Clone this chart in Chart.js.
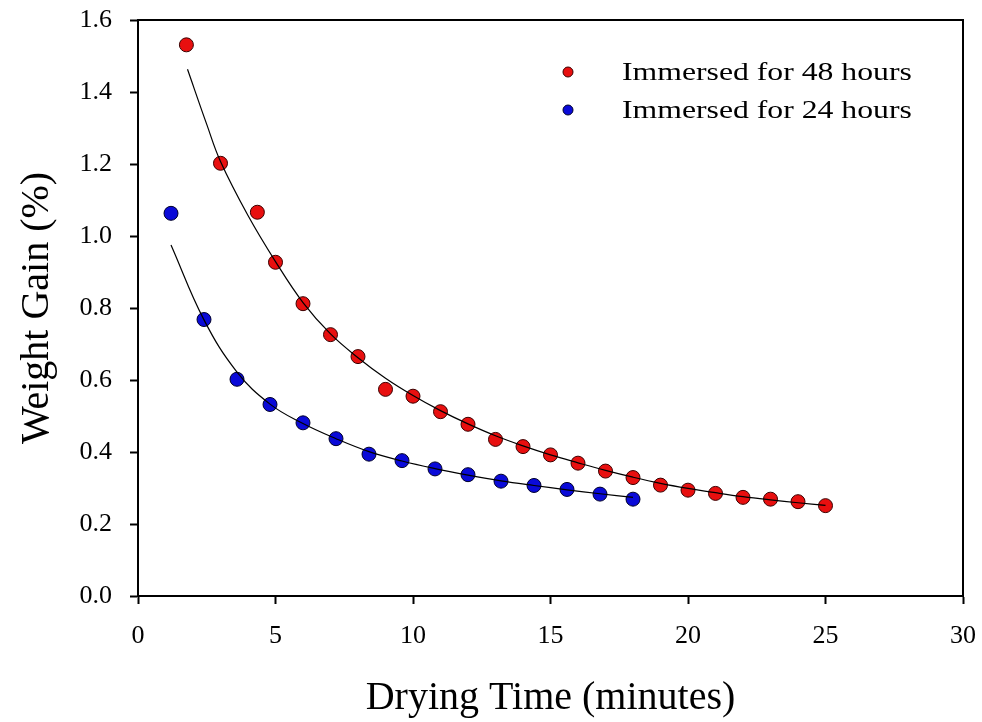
<!DOCTYPE html>
<html><head><meta charset="utf-8">
<script src="https://cdn.jsdelivr.net/npm/chart.js@4/dist/chart.umd.min.js"></script>
<style>html,body{margin:0;padding:0;background:#fff;}#wrap{width:982px;height:722px;}</style>
</head><body><div id="wrap"><canvas id="c" width="982" height="722"></canvas></div>
<script>
// ---- data ----
const seriesNames = ['Immersed for 48 hours', 'Immersed for 24 hours'];
const time48 = [1.76, 3, 4.34, 5, 6, 7, 8, 9, 10, 11, 12, 13, 14, 15, 16, 17, 18, 19, 20, 21, 22, 23, 24, 25];
const gain48 = [1.531, 1.202, 1.066, 0.927, 0.812, 0.726, 0.665, 0.574, 0.555, 0.512, 0.477, 0.435, 0.415, 0.392, 0.369, 0.347, 0.329, 0.308, 0.294, 0.285, 0.274, 0.269, 0.262, 0.251];
const time24 = [1.2, 2.4, 3.6, 4.8, 6.0, 7.2, 8.4, 9.6, 10.8, 12.0, 13.2, 14.4, 15.6, 16.8, 18.0];
const gain24 = [1.063, 0.768, 0.602, 0.532, 0.481, 0.437, 0.394, 0.376, 0.353, 0.337, 0.319, 0.307, 0.296, 0.283, 0.269];
const fitTime48 = [1.8, 2.5, 3, 4, 5, 6, 7, 8, 9, 10, 11, 12, 13, 14, 15, 16, 17, 18, 19, 20, 21, 22, 23, 24, 25];
const fitGain48 = [1.463, 1.31, 1.207, 1.057, 0.929, 0.815, 0.728, 0.662, 0.605, 0.557, 0.515, 0.478, 0.445, 0.417, 0.392, 0.370, 0.349, 0.330, 0.313, 0.299, 0.287, 0.276, 0.267, 0.259, 0.252];
const fitTime24 = [1.2, 2.4, 3.6, 4.8, 6.0, 7.2, 8.4, 9.6, 10.8, 12.0, 13.2, 14.4, 15.6, 16.8, 18.0];
const fitGain24 = [0.975, 0.767, 0.622, 0.533, 0.479, 0.437, 0.401, 0.375, 0.354, 0.336, 0.320, 0.307, 0.295, 0.284, 0.274];
const xTicks = [0, 5, 10, 15, 20, 25, 30];
const yTicks = [0, 0.2, 0.4, 0.6, 0.8, 1.0, 1.2, 1.4, 1.6];
const xTitle = 'Drying Time (minutes)';
const yTitle = 'Weight Gain (%)';

const pts = (xs, ys) => xs.map((x, i) => ({x: x, y: ys[i]}));
const SERIF = "'Liberation Serif', 'Times New Roman', serif";

const framePlugin = {
  id: 'frame',
  afterDatasetsDraw(chart) {
    const {ctx, chartArea: a} = chart;
    ctx.save();
    ctx.strokeStyle = '#000';
    ctx.lineWidth = 2;
    ctx.beginPath();
    ctx.moveTo(a.left, a.top);
    ctx.lineTo(a.right, a.top);
    ctx.lineTo(a.right, a.bottom);
    ctx.stroke();
    ctx.restore();
  }
};

const legendPlugin = {
  id: 'customLegend',
  afterDraw(chart) {
    const {ctx, chartArea: a} = chart;
    ctx.save();
    let row = 0;
    chart.data.datasets.forEach((ds) => {
      if (!ds.inLegend) return;
      const cx = a.left + 430;
      const cy = a.top + 52 + row * 38;
      ctx.beginPath();
      ctx.arc(cx, cy, 5, 0, Math.PI * 2);
      ctx.fillStyle = ds.backgroundColor;
      ctx.fill();
      ctx.lineWidth = 1;
      ctx.strokeStyle = ds.borderColor;
      ctx.stroke();
      ctx.fillStyle = '#000';
      ctx.font = "26px " + SERIF;
      ctx.textBaseline = 'alphabetic';
      ctx.textAlign = 'left';
      ctx.save();
      ctx.translate(a.left + 484, cy + 8);
      ctx.scale(1.22, 1);
      ctx.fillText(ds.label, 0, 0);
      ctx.restore();
      row++;
    });
    ctx.restore();
  }
};

new Chart(document.getElementById('c'), {
  type: 'scatter',
  data: {
    datasets: [
      {label: 'fit48', data: pts(fitTime48, fitGain48), showLine: true, pointRadius: 0, borderColor: '#000', borderWidth: 1.2, tension: 0.4, order: 0},
      {label: 'fit24', data: pts(fitTime24, fitGain24), showLine: true, pointRadius: 0, borderColor: '#000', borderWidth: 1.2, tension: 0.4, order: 0},
      {label: seriesNames[0], inLegend: true, data: pts(time48, gain48), pointRadius: 7, pointBorderWidth: 1, backgroundColor: '#e80f0f', borderColor: '#3a0000', order: 1},
      {label: seriesNames[1], inLegend: true, data: pts(time24, gain24), pointRadius: 7, pointBorderWidth: 1, backgroundColor: '#0a0ad8', borderColor: '#00002a', order: 1}
    ]
  },
  options: {
    responsive: false,
    animation: false,
    devicePixelRatio: 1,
    layout: {padding: {top: 20, right: 19, left: 0, bottom: 0}},
    plugins: {legend: {display: false}, tooltip: {enabled: false}},
    scales: {
      x: {
        type: 'linear', position: 'bottom', min: 0, max: 30,
        afterBuildTicks: s => { s.ticks = xTicks.map(v => ({value: v})); },
        afterFit: s => { s.height = 126; s.paddingLeft = 0; s.paddingRight = 0; },
        ticks: {color: '#000', font: {family: SERIF, size: 26}, padding: 17, maxRotation: 0, autoSkip: false},
        grid: {drawOnChartArea: false, drawTicks: true, tickLength: 8, tickColor: '#000', tickWidth: 2},
        border: {display: true, color: '#000', width: 2},
        title: {display: true, text: xTitle, color: '#000', font: {family: SERIF, size: 40}, padding: {top: 0, bottom: 0}}
      },
      y: {
        type: 'linear', position: 'left', min: 0, max: 1.6,
        afterBuildTicks: s => { s.ticks = yTicks.map(v => ({value: v})); },
        afterFit: s => { s.width = 138; s.paddingTop = 0; s.paddingBottom = 0; },
        ticks: {color: '#000', font: {family: SERIF, size: 26}, padding: 18, callback: v => Number(v).toFixed(1), autoSkip: false},
        grid: {drawOnChartArea: false, drawTicks: true, tickLength: 8, tickColor: '#000', tickWidth: 2},
        border: {display: true, color: '#000', width: 2},
        title: {display: true, text: yTitle, color: '#000', font: {family: SERIF, size: 40}, padding: {top: 13, bottom: 0}}
      }
    }
  },
  plugins: [framePlugin, legendPlugin]
});
</script>
</body></html>
